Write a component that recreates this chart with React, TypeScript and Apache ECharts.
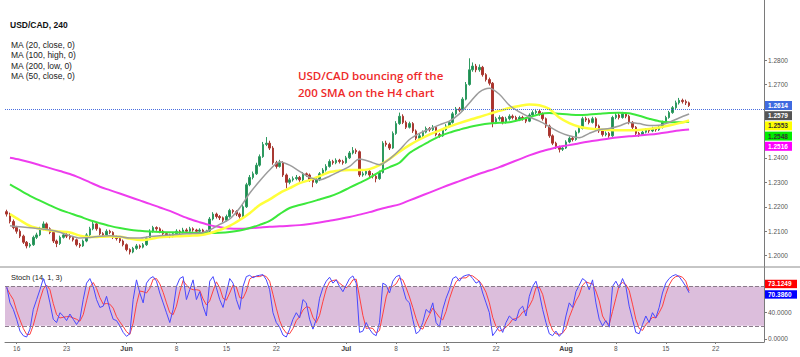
import React, { useEffect, useRef } from "react";
import * as echarts from "echarts";

// ---- data (H4 chart sampled at 3 bars per trading day) ----
// [open, close, low, high]
const candles: number[][] = [
[1.2180,1.2170,1.2160,1.2188],[1.2170,1.2140,1.2132,1.2176],[1.2140,1.2115,1.2108,1.2148],[1.2115,1.2100,1.2090,1.2122],
[1.2100,1.2080,1.2072,1.2108],[1.2080,1.2055,1.2048,1.2086],[1.2055,1.2040,1.2030,1.2060],[1.2040,1.2045,1.2033,1.2052],
[1.2045,1.2075,1.2040,1.2082],[1.2075,1.2085,1.2068,1.2094],[1.2085,1.2110,1.2080,1.2118],[1.2110,1.2130,1.2104,1.2140],
[1.2130,1.2110,1.2102,1.2136],[1.2110,1.2095,1.2088,1.2116],[1.2095,1.2060,1.2052,1.2100],[1.2060,1.2050,1.2035,1.2066],
[1.2050,1.2075,1.2044,1.2082],[1.2075,1.2085,1.2070,1.2095],[1.2085,1.2080,1.2072,1.2092],[1.2080,1.2075,1.2066,1.2088],
[1.2075,1.2065,1.2058,1.2080],[1.2065,1.2045,1.2038,1.2070],[1.2045,1.2040,1.2032,1.2052],[1.2040,1.2060,1.2036,1.2066],
[1.2060,1.2085,1.2055,1.2092],[1.2085,1.2110,1.2080,1.2118],[1.2110,1.2130,1.2104,1.2140],[1.2130,1.2110,1.2102,1.2135],
[1.2110,1.2090,1.2083,1.2115],[1.2090,1.2085,1.2076,1.2096],[1.2085,1.2100,1.2080,1.2108],[1.2100,1.2095,1.2088,1.2106],
[1.2095,1.2075,1.2068,1.2100],[1.2075,1.2070,1.2062,1.2082],[1.2070,1.2060,1.2052,1.2076],[1.2060,1.2045,1.2038,1.2066],
[1.2045,1.2025,1.2018,1.2050],[1.2025,1.2015,1.2005,1.2030],[1.2015,1.2030,1.2010,1.2036],[1.2030,1.2040,1.2024,1.2048],
[1.2040,1.2035,1.2028,1.2046],[1.2035,1.2045,1.2030,1.2052],[1.2045,1.2070,1.2040,1.2078],[1.2070,1.2100,1.2066,1.2108],
[1.2100,1.2115,1.2094,1.2122],[1.2115,1.2110,1.2102,1.2120],[1.2110,1.2100,1.2092,1.2116],[1.2100,1.2090,1.2083,1.2106],
[1.2090,1.2085,1.2078,1.2096],[1.2085,1.2080,1.2072,1.2090],[1.2080,1.2090,1.2075,1.2097],[1.2090,1.2100,1.2085,1.2108],
[1.2100,1.2095,1.2088,1.2106],[1.2095,1.2105,1.2090,1.2114],[1.2105,1.2100,1.2093,1.2112],[1.2100,1.2110,1.2095,1.2118],
[1.2110,1.2105,1.2098,1.2116],[1.2105,1.2100,1.2092,1.2110],[1.2100,1.2105,1.2094,1.2112],[1.2105,1.2095,1.2088,1.2110],
[1.2095,1.2100,1.2090,1.2106],[1.2100,1.2150,1.2096,1.2158],[1.2150,1.2170,1.2144,1.2178],[1.2170,1.2160,1.2152,1.2176],
[1.2160,1.2155,1.2146,1.2166],[1.2155,1.2145,1.2138,1.2160],[1.2145,1.2160,1.2140,1.2168],[1.2160,1.2185,1.2155,1.2192],
[1.2185,1.2180,1.2172,1.2190],[1.2180,1.2170,1.2162,1.2186],[1.2170,1.2160,1.2152,1.2176],[1.2160,1.2200,1.2156,1.2208],
[1.2200,1.2290,1.2195,1.2298],[1.2290,1.2320,1.2284,1.2330],[1.2320,1.2335,1.2312,1.2344],[1.2335,1.2370,1.2330,1.2380],
[1.2370,1.2405,1.2364,1.2414],[1.2405,1.2455,1.2400,1.2465],[1.2455,1.2460,1.2448,1.2485],[1.2460,1.2440,1.2432,1.2470],
[1.2440,1.2380,1.2372,1.2448],[1.2380,1.2365,1.2356,1.2388],[1.2365,1.2380,1.2360,1.2392],[1.2380,1.2330,1.2322,1.2386],
[1.2330,1.2300,1.2275,1.2336],[1.2300,1.2310,1.2292,1.2318],[1.2310,1.2315,1.2303,1.2324],[1.2315,1.2320,1.2308,1.2330],
[1.2320,1.2310,1.2302,1.2326],[1.2310,1.2335,1.2305,1.2342],[1.2335,1.2330,1.2322,1.2340],[1.2330,1.2310,1.2302,1.2336],
[1.2310,1.2300,1.2280,1.2316],[1.2300,1.2310,1.2294,1.2318],[1.2310,1.2335,1.2305,1.2342],[1.2335,1.2350,1.2330,1.2358],
[1.2350,1.2365,1.2344,1.2374],[1.2365,1.2385,1.2360,1.2394],[1.2385,1.2380,1.2372,1.2392],[1.2380,1.2390,1.2374,1.2398],
[1.2390,1.2385,1.2377,1.2396],[1.2385,1.2380,1.2372,1.2392],[1.2380,1.2400,1.2376,1.2408],[1.2400,1.2420,1.2395,1.2428],
[1.2420,1.2430,1.2414,1.2444],[1.2430,1.2425,1.2416,1.2438],[1.2425,1.2330,1.2322,1.2430],[1.2330,1.2335,1.2323,1.2344],
[1.2335,1.2345,1.2328,1.2352],[1.2345,1.2330,1.2322,1.2350],[1.2330,1.2325,1.2316,1.2338],[1.2325,1.2315,1.2300,1.2330],
[1.2315,1.2340,1.2310,1.2348],[1.2340,1.2460,1.2336,1.2468],[1.2460,1.2455,1.2446,1.2470],[1.2455,1.2440,1.2432,1.2462],
[1.2440,1.2500,1.2436,1.2508],[1.2500,1.2540,1.2494,1.2550],[1.2540,1.2570,1.2535,1.2585],[1.2570,1.2545,1.2538,1.2578],
[1.2545,1.2525,1.2518,1.2552],[1.2525,1.2540,1.2520,1.2548],[1.2540,1.2510,1.2502,1.2546],[1.2510,1.2480,1.2472,1.2516],
[1.2480,1.2490,1.2474,1.2498],[1.2490,1.2505,1.2484,1.2512],[1.2505,1.2520,1.2500,1.2528],[1.2520,1.2515,1.2507,1.2526],
[1.2515,1.2525,1.2510,1.2534],[1.2525,1.2495,1.2488,1.2530],[1.2495,1.2490,1.2482,1.2502],[1.2490,1.2515,1.2486,1.2522],
[1.2515,1.2530,1.2510,1.2538],[1.2530,1.2545,1.2525,1.2552],[1.2545,1.2580,1.2540,1.2588],[1.2580,1.2600,1.2574,1.2608],
[1.2600,1.2595,1.2587,1.2608],[1.2595,1.2640,1.2590,1.2648],[1.2640,1.2700,1.2635,1.2710],[1.2700,1.2760,1.2695,1.2807],
[1.2760,1.2775,1.2752,1.2790],[1.2775,1.2760,1.2750,1.2784],[1.2760,1.2770,1.2752,1.2782],[1.2770,1.2740,1.2732,1.2776],
[1.2740,1.2720,1.2712,1.2746],[1.2720,1.2705,1.2696,1.2728],[1.2705,1.2545,1.2525,1.2710],[1.2545,1.2560,1.2538,1.2568],
[1.2560,1.2565,1.2552,1.2574],[1.2565,1.2545,1.2537,1.2570],[1.2545,1.2560,1.2540,1.2568],[1.2560,1.2570,1.2553,1.2578],
[1.2570,1.2565,1.2557,1.2577],[1.2565,1.2555,1.2547,1.2572],[1.2555,1.2565,1.2550,1.2572],[1.2565,1.2560,1.2552,1.2572],
[1.2560,1.2550,1.2542,1.2566],[1.2550,1.2575,1.2546,1.2582],[1.2575,1.2585,1.2570,1.2594],[1.2585,1.2590,1.2578,1.2600],
[1.2590,1.2580,1.2572,1.2596],[1.2580,1.2560,1.2552,1.2586],[1.2560,1.2530,1.2522,1.2565],[1.2530,1.2490,1.2482,1.2536],
[1.2490,1.2460,1.2452,1.2496],[1.2460,1.2445,1.2436,1.2466],[1.2445,1.2435,1.2422,1.2450],[1.2435,1.2440,1.2428,1.2448],
[1.2440,1.2465,1.2436,1.2472],[1.2465,1.2480,1.2460,1.2488],[1.2480,1.2475,1.2467,1.2488],[1.2475,1.2505,1.2470,1.2512],
[1.2505,1.2520,1.2500,1.2528],[1.2520,1.2560,1.2516,1.2568],[1.2560,1.2555,1.2547,1.2568],[1.2555,1.2545,1.2537,1.2562],
[1.2545,1.2560,1.2540,1.2568],[1.2560,1.2530,1.2522,1.2566],[1.2530,1.2510,1.2502,1.2536],[1.2510,1.2495,1.2487,1.2516],
[1.2495,1.2500,1.2488,1.2508],[1.2500,1.2490,1.2482,1.2506],[1.2490,1.2565,1.2486,1.2572],[1.2565,1.2575,1.2558,1.2584],
[1.2575,1.2565,1.2557,1.2582],[1.2565,1.2580,1.2560,1.2588],[1.2580,1.2570,1.2562,1.2586],[1.2570,1.2545,1.2537,1.2576],
[1.2545,1.2525,1.2517,1.2550],[1.2525,1.2500,1.2492,1.2530],[1.2500,1.2495,1.2486,1.2506],[1.2495,1.2505,1.2490,1.2512],
[1.2505,1.2515,1.2500,1.2522],[1.2515,1.2510,1.2502,1.2520],[1.2510,1.2520,1.2505,1.2527],[1.2520,1.2515,1.2507,1.2525],
[1.2515,1.2525,1.2510,1.2532],[1.2525,1.2545,1.2520,1.2552],[1.2545,1.2565,1.2540,1.2572],[1.2565,1.2585,1.2560,1.2592],
[1.2585,1.2605,1.2580,1.2612],[1.2605,1.2625,1.2600,1.2634],[1.2625,1.2635,1.2618,1.2645],[1.2635,1.2630,1.2622,1.2642],
[1.2630,1.2625,1.2616,1.2638],[1.2625,1.2614,1.2608,1.2630],
];

// Moving averages, one reading per trading day (mid-day)
const ma20Close = [
1.2122,1.2118,1.2114,1.2110,1.2105,1.2096,1.2082,1.2072,1.2074,1.2080,1.2082,1.2078,1.2072,1.2072,1.2078,1.2082,1.2085,1.2088,1.2090,1.2092,
1.2105,1.2128,1.2150,1.2195,1.2255,1.2305,1.2350,1.2384,1.2370,1.2345,1.2320,1.2310,1.2325,1.2345,1.2365,1.2395,1.2385,1.2372,1.2395,1.2432,
1.2475,1.2500,1.2518,1.2535,1.2550,1.2580,1.2624,1.2669,1.2685,1.2660,1.2615,1.2588,1.2567,1.2550,1.2528,1.2505,1.2490,1.2482,1.2500,1.2515,
1.2520,1.2530,1.2545,1.2540,1.2532,1.2533,1.2545,1.2563,1.2579,
];
const ma100High = [
1.2170,1.2145,1.2122,1.2110,1.2103,1.2099,1.2095,1.2082,1.2076,1.2077,1.2078,1.2077,1.2070,1.2064,1.2068,1.2075,1.2078,1.2080,1.2082,1.2084,
1.2092,1.2105,1.2122,1.2146,1.2174,1.2207,1.2230,1.2256,1.2276,1.2297,1.2309,1.2325,1.2342,1.2348,1.2350,1.2350,1.2354,1.2370,1.2395,1.2425,
1.2452,1.2475,1.2495,1.2512,1.2528,1.2542,1.2555,1.2567,1.2580,1.2592,1.2604,1.2612,1.2618,1.2615,1.2600,1.2565,1.2542,1.2527,1.2520,1.2516,
1.2514,1.2513,1.2513,1.2514,1.2518,1.2524,1.2532,1.2542,1.2553,
];
const ma200Low = [
1.2400,1.2392,1.2382,1.2370,1.2358,1.2346,1.2334,1.2318,1.2300,1.2282,1.2268,1.2254,1.2240,1.2226,1.2212,1.2197,1.2183,1.2166,1.2150,1.2137,
1.2125,1.2117,1.2111,1.2110,1.2112,1.2115,1.2118,1.2120,1.2122,1.2125,1.2130,1.2136,1.2143,1.2150,1.2158,1.2168,1.2178,1.2190,1.2200,1.2210,
1.2226,1.2242,1.2258,1.2274,1.2290,1.2305,1.2320,1.2335,1.2348,1.2362,1.2378,1.2394,1.2410,1.2424,1.2435,1.2445,1.2452,1.2460,1.2467,1.2473,
1.2479,1.2484,1.2488,1.2491,1.2495,1.2500,1.2506,1.2512,1.2516,
];
const ma50Close = [
1.2292,1.2268,1.2245,1.2225,1.2206,1.2188,1.2174,1.2160,1.2145,1.2133,1.2122,1.2113,1.2106,1.2102,1.2099,1.2097,1.2096,1.2095,1.2094,1.2093,
1.2093,1.2094,1.2097,1.2103,1.2113,1.2126,1.2142,1.2170,1.2195,1.2207,1.2218,1.2230,1.2242,1.2258,1.2278,1.2298,1.2318,1.2343,1.2362,1.2380,
1.2420,1.2445,1.2467,1.2488,1.2503,1.2515,1.2526,1.2534,1.2540,1.2543,1.2546,1.2555,1.2566,1.2578,1.2583,1.2580,1.2577,1.2575,1.2577,1.2580,
1.2583,1.2584,1.2582,1.2572,1.2560,1.2550,1.2546,1.2546,1.2548,
];

// Stochastic (14, 1, 3)
const stochK = [
80,55,45,30,12,5,3,15,45,60,75,92,78,55,30,25,40,35,28,38,
30,22,30,60,85,92,80,60,48,50,65,45,30,28,20,10,4,8,60,90,
70,55,85,92,95,88,70,55,40,25,45,80,92,95,60,75,90,60,72,50,
35,88,95,78,60,48,70,92,85,60,45,80,95,97,93,96,97,98,90,75,
40,25,18,6,3,15,30,40,32,60,55,30,15,30,62,78,88,94,85,90,
80,72,82,92,96,85,10,12,25,15,8,5,25,85,82,70,88,95,97,78,
60,55,30,8,12,25,45,40,55,25,18,45,62,75,92,95,88,95,97,98,
92,85,88,70,55,40,5,12,20,10,25,35,30,28,45,50,35,65,80,88,
70,45,25,8,5,12,4,10,35,55,48,72,82,92,88,75,90,55,30,20,
28,18,80,88,78,92,80,50,30,10,8,22,35,25,40,32,48,70,85,92,
96,98,95,88,80,70.386,
];
const stochD = [
78,68,60,43,29,16,7,7,21,40,60,76,82,75,54,37,32,33,34,34,
32,30,27,37,58,79,86,77,63,53,54,53,47,34,26,19,11,7,24,53,
73,72,70,77,91,92,84,71,55,40,37,50,72,89,82,77,75,75,74,61,
52,58,73,87,78,62,59,70,82,79,63,62,73,91,95,95,95,97,95,88,
68,47,28,16,9,8,16,28,34,44,49,48,33,25,36,57,76,87,89,90,
85,81,78,82,90,91,64,36,16,17,16,9,13,38,64,79,80,84,93,90,
78,64,48,31,17,15,27,37,47,40,33,29,42,61,76,87,92,93,93,97,
96,92,88,81,71,55,33,19,12,14,18,23,30,31,34,41,43,50,60,78,
79,68,47,26,13,8,7,9,16,33,46,58,67,82,87,85,84,73,58,35,
26,22,42,62,82,86,83,74,53,30,16,13,22,27,33,32,40,50,68,82,
91,95,96,94,88,73.1249,
];

const priceTicks = [1.20, 1.21, 1.22, 1.23, 1.24, 1.25, 1.26, 1.27, 1.28];
// 1.2500 and 1.2600 are hidden behind the value badges in the reference
const priceTickLabels = [1.20, 1.21, 1.22, 1.23, 1.24, 1.27, 1.28];
const stochTicks = [0, 40, 80];
const stochTickLabels = [0, 40];
const xTickLabels: [string, string][] = [
  ["2021-05-17 00:00", "16"], ["2021-05-24 00:00", "23"], ["2021-06-01 00:00", "Jun"],
  ["2021-06-08 00:00", "8"], ["2021-06-15 00:00", "15"], ["2021-06-22 00:00", "22"],
  ["2021-07-01 00:00", "Jul"], ["2021-07-08 00:00", "8"], ["2021-07-15 00:00", "15"],
  ["2021-07-22 00:00", "22"], ["2021-08-02 00:00", "Aug"], ["2021-08-09 00:00", "8"],
  ["2021-08-16 00:00", "15"], ["2021-08-23 00:00", "22"],
];
const legendLines = ["MA (20, close, 0)", "MA (100, high, 0)", "MA (200, low, 0)", "MA (50, close, 0)"];
const titleText = "USD/CAD, 240";
const noteLines = ["USD/CAD bouncing off the", "200 SMA on the H4 chart"];

// categories: trading days, 3 slots per day
const slotHours = ["00:00", "08:00", "16:00"];
const tradingDays: string[] = [];
for (let t = Date.UTC(2021, 4, 14); t <= Date.UTC(2021, 7, 27); t += 86400000) {
  const d = new Date(t);
  const wd = d.getUTCDay();
  if (wd === 0 || wd === 6) continue;
  tradingDays.push(d.toISOString().slice(0, 10));
}
const categories = tradingDays.flatMap((d) => slotHours.map((h) => `${d} ${h}`));

const placeDaily = (vals: number[]) => {
  const arr: (number | null)[] = categories.map(() => null);
  vals.forEach((v, d) => { arr[d * 3 + 1] = v; });
  return arr;
};

const FONT = "'Liberation Sans', Arial, sans-serif";
const labelMap = new Map(xTickLabels);
const monthNames = new Set(["Jun", "Jul", "Aug"]);

export default function App() {
  const ref = useRef<HTMLDivElement>(null);
  useEffect(() => {
    document.body.style.margin = "0";
    const chart = echarts.init(ref.current!, null, { renderer: "svg" });
    const lastPrice = candles[candles.length - 1][1];
    const maLine = (name: string, data: number[], color: string, width: number) => ({
      name, type: "line", xAxisIndex: 0, yAxisIndex: 0, data: placeDaily(data),
      connectNulls: true, showSymbol: false, smooth: 0.3, silent: true,
      lineStyle: { color, width },
    });
    chart.setOption({
      animation: false,
      backgroundColor: "#ffffff",
      textStyle: { fontFamily: FONT },
      grid: [
        { left: 5, right: 36, top: 0, height: 267 },
        { left: 5, right: 36, top: 267, height: 75 },
      ],
      xAxis: [
        { type: "category", gridIndex: 0, data: categories, boundaryGap: true,
          axisLine: { show: false }, axisTick: { show: false }, axisLabel: { show: false }, splitLine: { show: false } },
        { type: "category", gridIndex: 1, data: categories, boundaryGap: true,
          axisLine: { show: true, onZero: false, lineStyle: { color: "#7a7a7a" } },
          axisTick: { show: true, alignWithLabel: true, length: 2, interval: (_i: number, v: string) => labelMap.has(v), lineStyle: { color: "#7a7a7a" } },
          axisLabel: {
            interval: (_i: number, v: string) => labelMap.has(v),
            formatter: (v: string) => { const t = labelMap.get(v) || ""; return monthNames.has(t) ? `{m|${t}}` : t; },
            fontSize: 6.5, color: "#555", margin: 3,
            rich: { m: { fontWeight: "bold", fontSize: 7, color: "#444" } },
          },
          splitLine: { show: false } },
      ],
      yAxis: [
        { type: "value", gridIndex: 0, position: "right", min: 1.19538, max: 1.30453, scale: true,
          axisLine: { show: true, lineStyle: { color: "#7a7a7a" } },
          axisTick: { show: true, length: 3, customValues: priceTicks, lineStyle: { color: "#7a7a7a" } },
          axisLabel: { customValues: priceTickLabels, formatter: (v: number) => v.toFixed(4), fontSize: 6.5, color: "#555", margin: 4 },
          splitLine: { show: false } },
        { type: "value", gridIndex: 1, position: "right", min: -4.6, max: 109.6,
          axisLine: { show: true, lineStyle: { color: "#7a7a7a" } },
          axisTick: { show: true, length: 3, customValues: stochTicks, lineStyle: { color: "#7a7a7a" } },
          axisLabel: { customValues: stochTickLabels, formatter: (v: number) => v.toFixed(4), fontSize: 6.5, color: "#555", margin: 4 },
          splitLine: { show: false } },
      ],
      series: [
        { name: "USD/CAD", type: "candlestick", xAxisIndex: 0, yAxisIndex: 0, data: candles, barWidth: "60%", silent: true,
          itemStyle: { color: "#1e8b50", color0: "#b0302a", borderColor: "#2e9a60", borderColor0: "#a83a33", borderWidth: 1 },
          markLine: { symbol: "none", silent: true, label: { show: false },
            lineStyle: { type: "dotted", color: "#4a6fe0", width: 1 }, data: [{ yAxis: lastPrice }] } },
        maLine("MA200", ma200Low, "#ee3cee", 2),
        maLine("MA50", ma50Close, "#3ce83c", 2),
        maLine("MA100", ma100High, "#ffff3a", 2.5),
        maLine("MA20", ma20Close, "#9c9c9c", 1.5),
        { name: "%D", type: "line", xAxisIndex: 1, yAxisIndex: 1, data: stochD, showSymbol: false, silent: true,
          lineStyle: { color: "#ff4040", width: 1 },
          markArea: { silent: true, itemStyle: { color: "#dcbedc" }, data: [[{ yAxis: 20 }, { yAxis: 80 }]] },
          markLine: { symbol: "none", silent: true, label: { show: false },
            lineStyle: { type: "dashed", color: "#8a7a8a", width: 1 }, data: [{ yAxis: 20 }, { yAxis: 80 }] } },
        { name: "%K", type: "line", xAxisIndex: 1, yAxisIndex: 1, data: stochK, showSymbol: false, silent: true,
          lineStyle: { color: "#4848ff", width: 1 } },
      ],
    });

    const yP = (v: number) => chart.convertToPixel({ yAxisIndex: 0 }, v) as number;
    const yS = (v: number) => chart.convertToPixel({ yAxisIndex: 1 }, v) as number;
    const last = (a: number[]) => a[a.length - 1];
    const badges = [
      { v: lastPrice, bg: "#3f6ae0", fg: "#ffffff" },
      { v: last(ma20Close), bg: "#555555", fg: "#ffffff" },
      { v: last(ma100High), bg: "#ffff00", fg: "#333333" },
      { v: last(ma50Close), bg: "#00ee00", fg: "#333333" },
      { v: last(ma200Low), bg: "#ff00ff", fg: "#ffffff" },
    ];
    const graphics: any[] = [];
    let prev = -1e9;
    badges.forEach((b) => {
      const c = Math.max(yP(b.v), prev + 10.2);
      prev = c;
      graphics.push({ type: "rect", z: 100, shape: { x: 765, y: c - 4.5, width: 27, height: 9 }, style: { fill: b.bg } });
      graphics.push({ type: "text", z: 101, x: 768, y: c, style: { text: b.v.toFixed(4), fill: b.fg, fontSize: 6.5, fontWeight: "bold", fontFamily: FONT, verticalAlign: "middle" } });
    });
    const sBadges = [
      { v: last(stochD), bg: "#ff0000", fg: "#ffffff" },
      { v: last(stochK), bg: "#0000ff", fg: "#ffffff" },
    ];
    let sc = yS(sBadges[0].v) - 7;
    sBadges.forEach((b) => {
      graphics.push({ type: "rect", z: 100, shape: { x: 765, y: sc - 4.2, width: 32, height: 8.4 }, style: { fill: b.bg } });
      graphics.push({ type: "text", z: 101, x: 768, y: sc, style: { text: b.v.toFixed(4), fill: b.fg, fontSize: 6.5, fontWeight: "bold", fontFamily: FONT, verticalAlign: "middle" } });
      sc += 10.5;
    });
    // separator between panels
    graphics.push({ type: "line", z: 50, shape: { x1: 0, y1: 267, x2: 800, y2: 267 }, style: { stroke: "#8c8c8c", lineWidth: 1 } });
    // title and legend
    graphics.push({ type: "text", x: 10, y: 25, style: { text: titleText, fill: "#111", fontSize: 8.5, fontWeight: "bold", fontFamily: FONT, verticalAlign: "middle" } });
    legendLines.forEach((t, i) => {
      graphics.push({ type: "text", x: 11, y: 44.5 + i * 10.5, style: { text: t, fill: "#222", fontSize: 8.5, fontFamily: FONT, verticalAlign: "middle" } });
    });
    graphics.push({ type: "text", x: 11, y: 277, style: { text: "Stoch (14, 1, 3)", fill: "#222", fontSize: 7.5, fontFamily: FONT, verticalAlign: "middle" } });
    noteLines.forEach((t, i) => {
      graphics.push({ type: "text", x: 298, y: 75.7 + i * 16.6, style: { text: t, fill: "#ee2a2a", fontSize: 11.5, fontWeight: 600, fontFamily: "'Open Sans', sans-serif", verticalAlign: "middle" } });
    });
    chart.setOption({ graphic: graphics });
    return () => chart.dispose();
  }, []);
  return <div ref={ref} style={{ width: 800, height: 357 }} />;
}
